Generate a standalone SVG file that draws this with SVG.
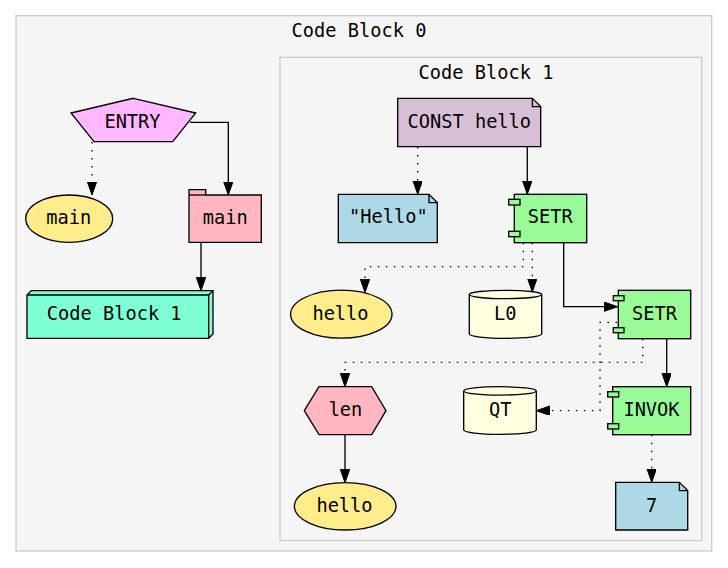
<svg xmlns="http://www.w3.org/2000/svg" width="728" height="568" viewBox="0 0 728 568">
<defs>
<style>
.cl{fill:#f5f5f5;stroke:#cccccc;stroke-width:1.33}
.n{stroke:#000;stroke-width:1.33}
.t{font-family:"DejaVu Sans Mono","Liberation Mono",monospace;font-size:18.67px;fill:#000;text-anchor:middle}
.e{fill:none;stroke:#000;stroke-width:1.33}
.d{stroke-dasharray:1.5,6.5}
.yel{fill:#ffec8b}
.pink{fill:#ffb6c1}
.grn{fill:#98fb98}
.blu{fill:#add8e6}
.cyl{fill:#ffffe0}
</style>
<marker id="ah" markerUnits="userSpaceOnUse" markerWidth="14" markerHeight="10" refX="13.33" refY="4.67" orient="auto" viewBox="0 0 14 10">
<path d="M0,0 L13.33,4.67 L0,9.33 Z" fill="#000" stroke="#000" stroke-width="1"/>
</marker>
</defs>
<rect width="728" height="568" fill="#fff"/>
<g id="cluster0">
<rect class="cl" x="16" y="15.7" width="695.7" height="535.3"/>
<text class="t" x="359" y="36.7">Code Block 0</text>
</g>
<g id="cluster1">
<rect class="cl" x="280" y="57.3" width="421.7" height="483.2"/>
<text class="t" x="486" y="79">Code Block 1</text>
</g>
<g id="connectors">
<path class="e" d="M190,122.3 H228.3 V195" marker-end="url(#ah)"/>
<path class="e d" d="M92,142 V195" marker-end="url(#ah)"/>
<path class="e" d="M201,242.3 V290.7" marker-end="url(#ah)"/>
<path class="e d" d="M417.7,147 V194.3" marker-end="url(#ah)"/>
<path class="e" d="M527.3,147 V194.3" marker-end="url(#ah)"/>
<path class="e d" d="M523.3,242.7 V266.7 H365 V292.5" marker-end="url(#ah)"/>
<path class="e d" d="M532.3,242.7 V292" marker-end="url(#ah)"/>
<path class="e" d="M563.7,242.7 V306.7 H617.5" marker-end="url(#ah)"/>
<path class="e d" d="M642.7,338.7 V362.3 H345 V386.7" marker-end="url(#ah)"/>
<path class="e d" d="M617,322.3 H600 V410.7 H536.3" marker-end="url(#ah)"/>
<path class="e" d="M666.7,338.7 V386.7" marker-end="url(#ah)"/>
<path class="e" d="M345,434.7 V482.7" marker-end="url(#ah)"/>
<path class="e d" d="M651.7,434.7 V482.3" marker-end="url(#ah)"/>
</g>
<g id="entry">
<polygon class="n" fill="#ffb8ff" points="133.3,98.3 195.7,113 172.7,141.7 94,141.7 71,113"/>
<text class="t" x="132.5" y="128.3">ENTRY</text>
</g>
<g id="main_ellipse">
<ellipse class="n yel" cx="69.2" cy="218.7" rx="43.5" ry="23.7"/>
<text class="t" x="68.8" y="224.3">main</text>
</g>
<g id="main_folder">
<polygon class="n pink" points="189,195 189,189.7 205.7,189.7 205.7,195 261.3,195 261.3,242.3 189,242.3"/>
<line class="n" x1="189" y1="195" x2="205.7" y2="195"/>
<text class="t" x="225.3" y="224.3">main</text>
</g>
<g id="codeblock1">
<polygon class="n" fill="#7fffd4" points="27,295 31.3,290.7 213,290.7 213,334 208.7,338.3 27,338.3"/>
<polyline class="n" fill="none" points="27,295 208.7,295 213,290.7"/>
<line class="n" x1="208.7" y1="295" x2="208.7" y2="338.3"/>
<text class="t" x="114.2" y="320">Code Block 1</text>
</g>
<g id="const_hello">
<polygon class="n" fill="#d8bfd8" points="397.7,98.3 532.4,98.3 540.7,106.6 540.7,146.7 397.7,146.7"/>
<polyline class="n" fill="none" points="532.4,98.3 532.4,106.6 540.7,106.6"/>
<text class="t" x="469.3" y="127.7">CONST hello</text>
</g>
<g id="str_hello">
<polygon class="n blu" points="338.3,194.3 429,194.3 437.3,202.6 437.3,242.7 338.3,242.7"/>
<polyline class="n" fill="none" points="429,194.3 429,202.6 437.3,202.6"/>
<text class="t" x="388.3" y="223.3">"Hello"</text>
</g>
<g id="setr1">
<rect class="n grn" x="514.3" y="194.3" width="72.4" height="48.4"/>
<rect class="n grn" x="508.7" y="199.3" width="11.3" height="5.7"/>
<rect class="n grn" x="508.7" y="231.3" width="11.3" height="5.4"/>
<text class="t" x="550.3" y="223.3">SETR</text>
</g>
<g id="hello1">
<ellipse class="n yel" cx="341.3" cy="314.2" rx="50.7" ry="24"/>
<text class="t" x="340.5" y="320">hello</text>
</g>
<g id="l0">
<path class="n cyl" d="M469.3,294.5 A36.2,4.2 0 0 1 541.7,294.5 V334.1 A36.2,4.2 0 0 1 469.3,334.1 Z"/>
<path class="n" fill="none" d="M469.3,294.5 A36.2,4.2 0 0 0 541.7,294.5"/>
<text class="t" x="505.3" y="320">L0</text>
</g>
<g id="setr2">
<rect class="n grn" x="618.3" y="290.3" width="72.4" height="48.4"/>
<rect class="n grn" x="613.3" y="295.7" width="10.7" height="5"/>
<rect class="n grn" x="613.3" y="327.7" width="10.7" height="5"/>
<text class="t" x="654.5" y="320">SETR</text>
</g>
<g id="len">
<polygon class="n pink" points="304.3,410.7 319,386.7 371.7,386.7 386,410.7 371.7,434.7 319,434.7"/>
<text class="t" x="345.5" y="416">len</text>
</g>
<g id="qt">
<path class="n cyl" d="M463.7,390.9 A36.3,4.2 0 0 1 536.3,390.9 V430.1 A36.3,4.2 0 0 1 463.7,430.1 Z"/>
<path class="n" fill="none" d="M463.7,390.9 A36.3,4.2 0 0 0 536.3,390.9"/>
<text class="t" x="500.2" y="416">QT</text>
</g>
<g id="invok">
<rect class="n grn" x="612.7" y="386.7" width="78" height="48"/>
<rect class="n grn" x="607.7" y="391.7" width="11" height="5.3"/>
<rect class="n grn" x="607.7" y="423.7" width="11" height="5.3"/>
<text class="t" x="651.5" y="416">INVOK</text>
</g>
<g id="hello2">
<ellipse class="n yel" cx="345.2" cy="506.3" rx="50.8" ry="23.7"/>
<text class="t" x="344.5" y="512.3">hello</text>
</g>
<g id="num7">
<polygon class="n blu" points="615.7,482.3 679.4,482.3 687.7,490.6 687.7,530 615.7,530"/>
<polyline class="n" fill="none" points="679.4,482.3 679.4,490.6 687.7,490.6"/>
<text class="t" x="651.7" y="512.3">7</text>
</g>
</svg>
